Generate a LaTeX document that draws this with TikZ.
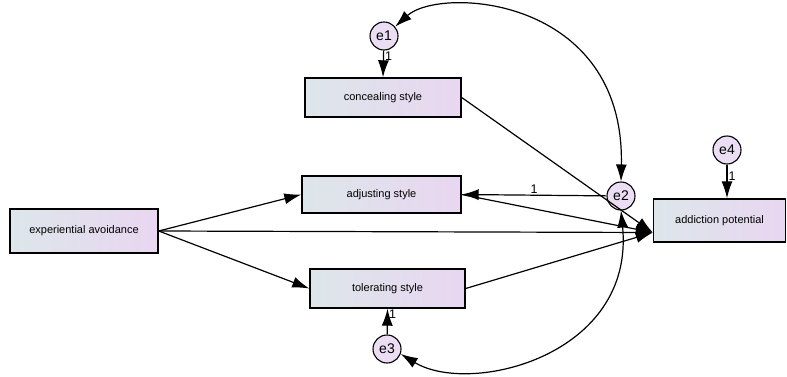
\documentclass[tikz,border=0pt]{standalone}
\usepackage{fontspec}
\setmainfont{Liberation Sans}
\usetikzlibrary{arrows.meta}
\definecolor{boxleft}{HTML}{DDE6EA}
\definecolor{boxright}{HTML}{E9D6F1}
\definecolor{errfill}{HTML}{EBDDF3}

\begin{document}
\begin{tikzpicture}[x=1pt, y=1pt,
    % Styles
    observed/.style={draw=black, line width=1.4pt, left color=boxleft, right color=boxright, minimum height=#1, inner sep=0pt, font=\fontsize{11}{12}\selectfont},
    errterm/.style={draw=black, line width=1.1pt, fill=errfill, circle, minimum size=28pt, inner sep=0pt, font=\fontsize{14}{15}\selectfont},
    path-arrow/.style={-{Latex[length=17pt, width=11pt]}, line width=1.2pt},
    cov-arrow/.style={{Latex[length=17pt, width=11pt]}-{Latex[length=17pt, width=11pt]}, line width=1.2pt},
    weight/.style={font=\fontsize{12.5}{13}\selectfont, inner sep=1pt},
]
\useasboundingbox (0,0) rectangle (787,376);

% Observed variables
\node[observed=44pt, minimum width=148pt] (ea) at (84, 145) {experiential avoidance};
\node[observed=39pt, minimum width=156pt] (cs) at (383, 278.5) {concealing style};
\node[observed=37pt, minimum width=159pt] (as) at (381.5, 181.5) {adjusting style};
\node[observed=39pt, minimum width=155pt] (ts) at (387.5, 87.5) {tolerating style};
\node[observed=43pt, minimum width=132pt] (ap) at (719.5, 155.5) {addiction potential};

% Error terms
\node[errterm] (e1) at (384, 340) {e1};
\node[errterm] (e2) at (621, 180) {e2};
\node[errterm] (e3) at (387, 27) {e3};
\node[errterm] (e4) at (727, 226) {e4};

% Entry point on addiction potential
\coordinate (apin) at ([yshift=-12pt]ap.west);

% Paths from experiential avoidance
\draw[path-arrow] (ea.east) -- (as.west);
\draw[path-arrow] (ea.east) -- (ts.west);
\draw[path-arrow] (ea.east) -- (apin);

% Paths to addiction potential
\draw[path-arrow] (cs.east) -- (apin);
\draw[path-arrow] (as.east) -- (apin);
\draw[path-arrow] (ts.east) -- (apin);

% Error terms to variables
\draw[path-arrow] (e1) -- (cs.north) node[weight, right, pos=0.2] {1};
\draw[path-arrow] (e2) -- (as.east) node[weight, above, pos=0.5] {1};
\draw[path-arrow] (e3) -- (ts.south) node[weight, right, pos=0.8] {1};
\draw[path-arrow] (e4) -- (e4 |- ap.north) node[weight, right, pos=0.35] {1};

% Covariances
\draw[cov-arrow] (e1.40) .. controls (440, 390) and (625, 380) .. (e2.north);
\draw[cov-arrow] (e2.south) .. controls (635, 20) and (470, -20) .. (e3.-20);

\end{tikzpicture}
\end{document}
